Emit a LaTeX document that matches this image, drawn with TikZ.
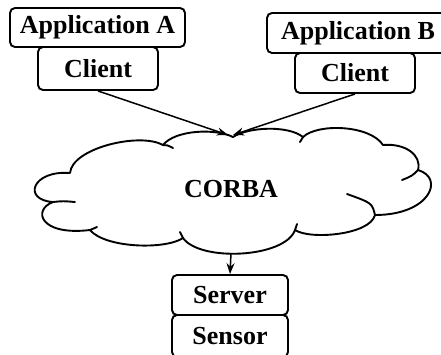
\documentclass[tikz,border=0pt]{standalone}
\usepackage{fontspec}
\setmainfont{Liberation Serif}
\usetikzlibrary{arrows.meta}

\tikzset{
  labelfont/.style={font=\fontsize{26}{30}\selectfont\bfseries},
  box/.style={draw, line width=1.9pt, rounded corners=5pt, fill=white,
    inner sep=0pt, labelfont},
  link/.style={draw, line width=1.5pt, -{Stealth[length=11pt,width=8pt]}},
  outline/.style={line width=1.9pt, line join=round, line cap=round},
}

\begin{document}
\begin{tikzpicture}[x=1pt, y=-1pt]
  \useasboundingbox (0,0) rectangle (441,354);

  % CORBA cloud: eleven bumps with short inner hooks at the joins
  \draw[outline]
    (70,173) .. controls (72,148) and (140,132) .. (163,145)
    .. controls (175,130) and (215,128) .. (233,137)
    .. controls (248,127) and (288,125) .. (303,137)
    .. controls (318,123) and (370,125) .. (383,145)
    .. controls (405,143) and (422,155) .. (418,170)
    .. controls (445,178) and (430,215) .. (375,215)
    .. controls (370,235) and (310,240) .. (295,230)
    .. controls (285,258) and (200,262) .. (183,238)
    .. controls (165,250) and (105,248) .. (90,230)
    .. controls (40,236) and (32,210) .. (53,202)
    .. controls (22,200) and (32,170) .. (70,173);
  \draw[outline] (163,145) .. controls (167,145) .. (173,148);
  \draw[outline] (303,137) .. controls (301,139) .. (300,142);
  \draw[outline] (418,170) .. controls (412,176) .. (402,180);
  \draw[outline] (375,215) .. controls (372,203) .. (347,194);
  \draw[outline] (295,230) .. controls (296,227) .. (297,224);
  \draw[outline] (183,238) .. controls (181,235) .. (180,232);
  \draw[outline] (90,230) .. controls (93,228) .. (97,227);
  \draw[outline] (53,202) .. controls (63,201) .. (75,202);
  \node[labelfont] (corba) at (231,189) {CORBA};

  \coordinate (cloudA) at (228,135);
  \coordinate (cloudB) at (233,135);
  \coordinate (cloudS) at (231,253);

  % application A
  \node[box, minimum width=175pt, minimum height=39pt] (appa) at (97.5,27.5) {Application A};
  \node[box, minimum width=120pt, minimum height=43pt] (cla) at (98,68.5) {Client};

  % application B
  \node[box, minimum width=182pt, minimum height=40pt] (appb) at (358,33) {Application B};
  \node[box, minimum width=120pt, minimum height=40pt] (clb) at (355,73) {Client};

  % server side
  \node[box, minimum width=116pt, minimum height=40pt] (srv) at (230,295) {Server};
  \node[box, minimum width=116pt, minimum height=42pt] (sns) at (230,336) {Sensor};

  % connectors
  \draw[link] (cla.south) -- (cloudA);
  \draw[link] (clb.south) -- (cloudB);
  \draw[link] (cloudS) -- (srv.north);
\end{tikzpicture}
\end{document}
